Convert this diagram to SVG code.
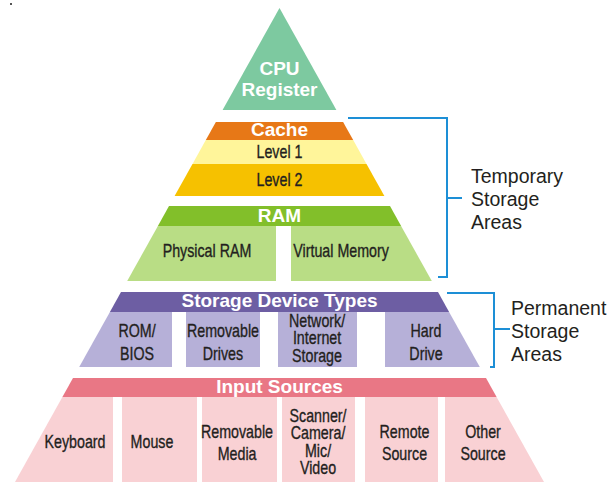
<svg xmlns="http://www.w3.org/2000/svg" width="615" height="482" viewBox="0 0 615 482">
<style>
.hd{font-family:"Liberation Sans",Arial,sans-serif;font-weight:bold;font-size:19px;fill:#ffffff;text-anchor:middle}
.bd{font-family:"Liberation Sans",Arial,sans-serif;font-size:19px;fill:#231f20;stroke:#231f20;stroke-width:0.35;text-anchor:middle;transform-box:fill-box;transform-origin:center;transform:scaleX(0.75)}
.lb{font-family:"Liberation Sans",Arial,sans-serif;font-size:19.5px;fill:#231f20}
.br{fill:none;stroke:#1d8fd6;stroke-width:2}
</style>
<rect width="615" height="482" fill="#ffffff"/>
<rect x="10" y="3" width="2" height="2" fill="#555"/>

<g id="cpu-register">
<polygon points="279.5,8 336.4,110 222.6,110" fill="#7dc9a0"/>
<text class="hd" x="279.5" y="75">CPU</text>
<text class="hd" x="279.5" y="96">Register</text>
</g>

<g id="cache">
<polygon points="215.9,122 343.1,122 353.2,140 205.8,140" fill="#e77817"/>
<text class="hd" x="279.5" y="136">Cache</text>
</g>
<g id="level-1">
<polygon points="205.8,140 353.2,140 366.5,164 192.5,164" fill="#fff59a"/>
<text class="bd" x="279.5" y="158">Level 1</text>
</g>
<g id="level-2">
<polygon points="192.5,164 366.5,164 384.4,196 174.6,196" fill="#f6c100"/>
<text class="bd" x="279.5" y="186">Level 2</text>
</g>

<g id="ram">
<polygon points="169,206 390,206 401.1,226 157.9,226" fill="#82bf2a"/>
<text class="hd" x="279.5" y="222">RAM</text>
</g>
<g id="physical-ram">
<polygon points="157.9,226 276,226 276,281 127.2,281" fill="#b9dd85"/>
<text class="bd" x="207" y="257">Physical RAM</text>
</g>
<g id="virtual-memory">
<polygon points="291,226 401.1,226 431.8,281 291,281" fill="#b9dd85"/>
<text class="bd" x="341" y="257">Virtual Memory</text>
</g>

<g id="storage-device-types">
<polygon points="121,292 438,292 449.1,312 109.9,312" fill="#6d5ea3"/>
<text class="hd" x="279.5" y="307">Storage Device Types</text>
</g>
<g id="rom-bios">
<polygon points="109.9,312 172,312 172,367 79.2,367" fill="#b6b0d8"/>
<text class="bd" x="137" y="337">ROM/</text>
<text class="bd" x="137" y="360">BIOS</text>
</g>
<g id="removable-drives">
<rect x="186" y="312" width="74" height="55" fill="#b6b0d8"/>
<text class="bd" x="223" y="337">Removable</text>
<text class="bd" x="223" y="360">Drives</text>
</g>
<g id="network-storage">
<rect x="278" y="312" width="79" height="55" fill="#b6b0d8"/>
<text class="bd" x="317" y="327">Network/</text>
<text class="bd" x="317" y="344.5">Internet</text>
<text class="bd" x="317" y="362">Storage</text>
</g>
<g id="hard-drive">
<polygon points="385,312 449.1,312 479.8,367 385,367" fill="#b6b0d8"/>
<text class="bd" x="426" y="337">Hard</text>
<text class="bd" x="426" y="360">Drive</text>
</g>

<g id="input-sources">
<polygon points="73,378 486,378 496.6,397 62.4,397" fill="#e97785"/>
<text class="hd" x="279.5" y="393">Input Sources</text>
</g>
<g id="keyboard">
<polygon points="62.4,397 113,397 113,482 15,482" fill="#f9d1d4"/>
<text class="bd" x="75" y="448">Keyboard</text>
</g>
<g id="mouse">
<rect x="122" y="397" width="75" height="85" fill="#f9d1d4"/>
<text class="bd" x="152" y="448">Mouse</text>
</g>
<g id="removable-media">
<rect x="202" y="397" width="75" height="85" fill="#f9d1d4"/>
<text class="bd" x="237" y="438">Removable</text>
<text class="bd" x="237" y="460">Media</text>
</g>
<g id="scanner-camera">
<rect x="282" y="397" width="73" height="85" fill="#f9d1d4"/>
<text class="bd" x="318" y="422">Scanner/</text>
<text class="bd" x="318" y="439.5">Camera/</text>
<text class="bd" x="318" y="457">Mic/</text>
<text class="bd" x="318" y="474.5">Video</text>
</g>
<g id="remote-source">
<rect x="365" y="397" width="73" height="85" fill="#f9d1d4"/>
<text class="bd" x="404.5" y="438">Remote</text>
<text class="bd" x="404.5" y="460">Source</text>
</g>
<g id="other-source">
<polygon points="445,397 496.6,397 544,482 445,482" fill="#f9d1d4"/>
<text class="bd" x="483" y="438">Other</text>
<text class="bd" x="483" y="460">Source</text>
</g>

<g id="connectors">
<polyline class="br" points="348,118 447,118 447,277 438,277"/>
<line class="br" x1="447" y1="198" x2="462" y2="198"/>
<polyline class="br" points="447,293 494,293 494,367 490,367"/>
<line class="br" x1="494" y1="329" x2="510" y2="329"/>
</g>

<g id="temporary-label">
<text class="lb" x="471" y="183">Temporary</text>
<text class="lb" x="471" y="206">Storage</text>
<text class="lb" x="471" y="229">Areas</text>
</g>
<g id="permanent-label">
<text class="lb" x="511" y="315">Permanent</text>
<text class="lb" x="511" y="338">Storage</text>
<text class="lb" x="511" y="361">Areas</text>
</g>
</svg>
